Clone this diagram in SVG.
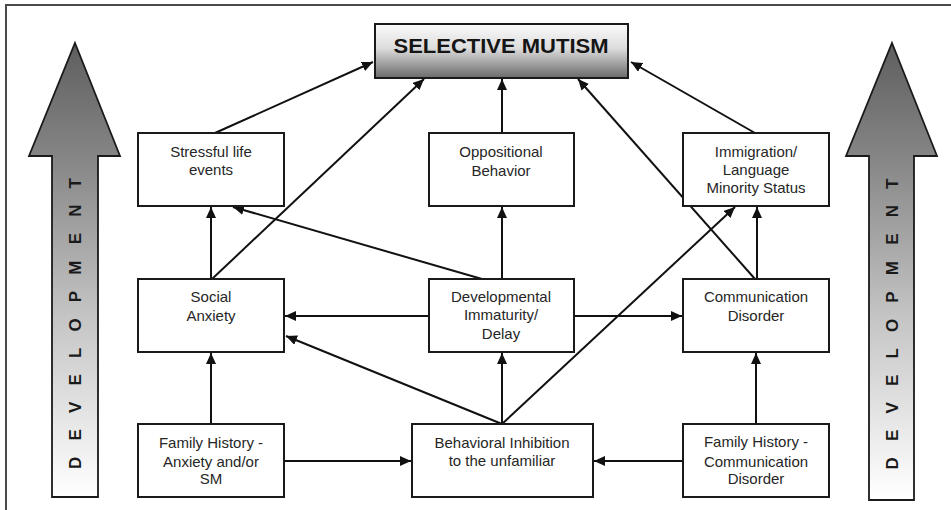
<svg xmlns="http://www.w3.org/2000/svg" width="951" height="510" viewBox="0 0 951 510">
<defs>
<linearGradient id="devGrad" gradientUnits="userSpaceOnUse" x1="0" y1="43" x2="0" y2="497">
<stop offset="0" stop-color="#5e5e5e"/>
<stop offset="0.25" stop-color="#858585"/>
<stop offset="0.6" stop-color="#c4c4c4"/>
<stop offset="1" stop-color="#ffffff"/>
</linearGradient>
<linearGradient id="smGrad" x1="0" y1="0" x2="0" y2="1">
<stop offset="0" stop-color="#fbfbfb"/>
<stop offset="0.45" stop-color="#dcdcdc"/>
<stop offset="1" stop-color="#6a6a6a"/>
</linearGradient>
<marker id="ah" markerUnits="userSpaceOnUse" markerWidth="12" markerHeight="10" refX="11" refY="5" orient="auto">
<path d="M0,0 L11,5 L0,10 z" fill="#111"/>
</marker>
</defs>
<style>
.box{fill:#fff;stroke:#1a1a1a;stroke-width:2}
.t{font-family:"Liberation Sans",Arial,sans-serif;font-size:15px;fill:#262626;text-anchor:middle}
.dev{font-family:"Liberation Sans",Arial,sans-serif;font-size:17px;font-weight:bold;fill:#1a1a1a;text-anchor:middle}
.arr{fill:url(#devGrad);stroke:#1a1a1a;stroke-width:1.8;stroke-linejoin:miter}
#connectors line{stroke:#111;stroke-width:2;marker-end:url(#ah)}
</style>
<rect width="951" height="510" fill="#fff"/>
<path d="M6,510 L6,5 L951,5" fill="none" stroke="#4a4a4a" stroke-width="2"/>

<g id="dev-left">
<path class="arr" d="M75,43 L120,156 L98,156 L98,497 L52,497 L52,156 L29,156 Z"/>
<text class="dev" transform="translate(81,323.5) rotate(-90)" textLength="291" lengthAdjust="spacing">DEVELOPMENT</text>
</g>
<g id="dev-right">
<path class="arr" d="M892,43 L937,156 L914,156 L914,500 L869,500 L869,156 L846,156 Z"/>
<text class="dev" transform="translate(898,324) rotate(-90)" textLength="291" lengthAdjust="spacing">DEVELOPMENT</text>
</g>

<g id="connectors">
<line x1="215" y1="133" x2="373" y2="62"/>
<line x1="212" y1="279" x2="424" y2="79"/>
<line x1="502" y1="133" x2="502" y2="79"/>
<line x1="755" y1="279" x2="578" y2="79"/>
<line x1="755" y1="133" x2="631" y2="62"/>
<line x1="211" y1="279" x2="211" y2="207"/>
<line x1="482" y1="279" x2="233" y2="207"/>
<line x1="502" y1="279" x2="502" y2="207"/>
<line x1="429" y1="316" x2="285" y2="316"/>
<line x1="574" y1="316" x2="682" y2="316"/>
<line x1="757" y1="279" x2="757" y2="207"/>
<line x1="502" y1="424" x2="502" y2="353"/>
<line x1="502" y1="424" x2="286" y2="336"/>
<line x1="502" y1="424" x2="735" y2="207"/>
<line x1="211" y1="424" x2="211" y2="353"/>
<line x1="284" y1="461" x2="411" y2="461"/>
<line x1="683" y1="461" x2="594" y2="461"/>
<line x1="756" y1="424" x2="756" y2="353"/>
</g>

<g id="selective-mutism">
<rect x="375" y="24" width="253" height="54" fill="url(#smGrad)" stroke="#1a1a1a" stroke-width="2"/>
<text x="501" y="53" font-family="'Liberation Sans',Arial,sans-serif" font-size="21" font-weight="bold" fill="#151515" text-anchor="middle" textLength="215" lengthAdjust="spacingAndGlyphs">SELECTIVE MUTISM</text>
</g>

<g id="stressful">
<rect class="box" x="138" y="133" width="146" height="73"/>
<text class="t" x="211" y="157">Stressful life</text>
<text class="t" x="211" y="175">events</text>
</g>
<g id="oppositional">
<rect class="box" x="429" y="133" width="145" height="73"/>
<text class="t" x="501" y="157">Oppositional</text>
<text class="t" x="501" y="176">Behavior</text>
</g>
<g id="immigration">
<rect class="box" x="683" y="133" width="146" height="73"/>
<text class="t" x="756" y="157">Immigration/</text>
<text class="t" x="756" y="175">Language</text>
<text class="t" x="756" y="193">Minority Status</text>
</g>
<g id="social-anxiety">
<rect class="box" x="138" y="279" width="146" height="73"/>
<text class="t" x="211" y="302">Social</text>
<text class="t" x="211" y="321">Anxiety</text>
</g>
<g id="developmental">
<rect class="box" x="429" y="279" width="145" height="73"/>
<text class="t" x="501" y="302">Developmental</text>
<text class="t" x="501" y="320">Immaturity/</text>
<text class="t" x="501" y="339">Delay</text>
</g>
<g id="communication">
<rect class="box" x="683" y="279" width="146" height="73"/>
<text class="t" x="756" y="302">Communication</text>
<text class="t" x="756" y="321">Disorder</text>
</g>
<g id="family-anxiety">
<rect class="box" x="138" y="424" width="146" height="73"/>
<text class="t" x="211" y="448">Family History -</text>
<text class="t" x="211" y="467">Anxiety and/or</text>
<text class="t" x="211" y="484">SM</text>
</g>
<g id="behavioral-inhibition">
<rect class="box" x="412" y="424" width="181" height="73"/>
<text class="t" x="502" y="448">Behavioral Inhibition</text>
<text class="t" x="502" y="466">to the unfamiliar</text>
</g>
<g id="family-communication">
<rect class="box" x="683" y="424" width="146" height="73"/>
<text class="t" x="756" y="447">Family History -</text>
<text class="t" x="756" y="467">Communication</text>
<text class="t" x="756" y="484">Disorder</text>
</g>
</svg>
